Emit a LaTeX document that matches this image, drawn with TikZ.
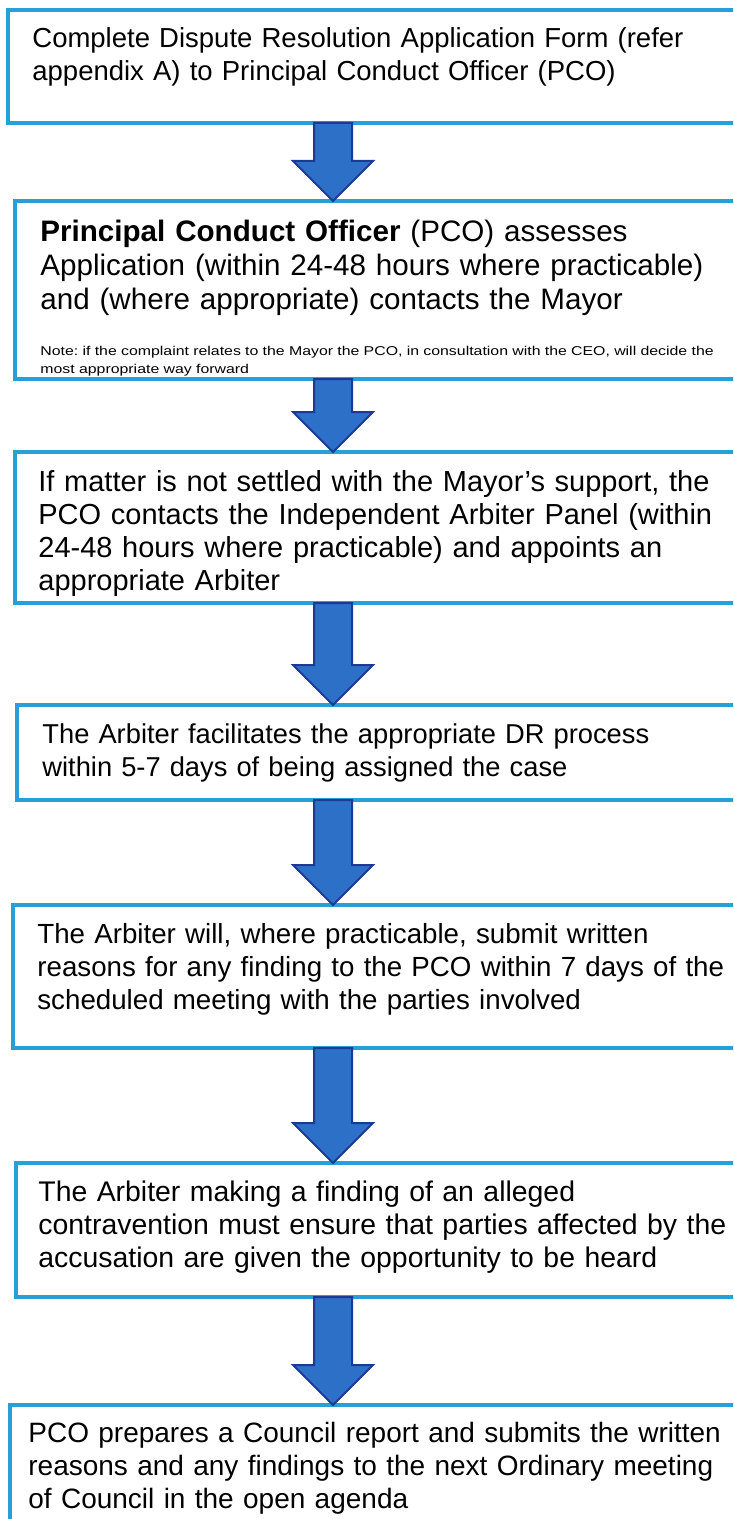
\documentclass[tikz,border=0pt]{standalone}
\usepackage{fontspec}
\setmainfont{Liberation Sans}
\newfontfamily\notefont[FakeStretch=1.24]{Liberation Sans}
\frenchspacing
\usetikzlibrary{calc}
\definecolor{frameblue}{RGB}{38,160,214}
\definecolor{arrowblue}{RGB}{44,112,200}
\definecolor{arrownavy}{RGB}{28,58,148}
\tikzset{
  stage/.style ={draw=frameblue, line width=2.3pt, fill=white, inner sep=0pt, outer sep=0pt,
                 anchor=north west, minimum width=390pt},
  txt/.style   ={anchor=base west, inner sep=0pt, align=left, text width=380pt,
                 font=\fontsize{#1}{16.5}\selectfont},
  txt/.default=13.75,
  note/.style  ={anchor=base west, inner sep=0pt, align=left, text width=380pt,
                 font=\notefont\fontsize{6.4}{8.75}\selectfont},
  flow/.style  ={draw=arrownavy, fill=arrowblue, line width=1pt, line join=miter},
}
\begin{document}
\begin{tikzpicture}[x=0.5pt,y=0.5pt]
\useasboundingbox (0,0) rectangle (733,-1519);
\clip (0,0) rectangle (733,-1519);
% process boxes
\node[stage,minimum height=56.5pt] (b1) at (8,-10) {};
\node[stage,minimum height=89pt]   (b2) at (15,-201) {};
\node[stage,minimum height=75.5pt] (b3) at (15,-452) {};
\node[stage,minimum height=47.5pt] (b4) at (17,-705) {};
\node[stage,minimum height=71.5pt] (b5) at (13,-905) {};
\node[stage,minimum height=67pt]   (b6) at (16,-1163) {};
\node[stage,minimum height=80pt]   (b7) at (10,-1405) {};
% texts
\node[txt=13.75] (t1) at ($(b1.north west)+(24,-38)$) {Complete Dispute Resolution Application Form (refer\\ appendix A) to Principal Conduct Officer (PCO)};
\node[txt=14.8,font=\fontsize{14.8}{17}\selectfont] (t2) at ($(b2.north west)+(25,-41)$) {\textbf{Principal Conduct Officer} (PCO) assesses\\ Application (within 24-48 hours where practicable)\\ and (where appropriate) contacts the Mayor};
\node[note] (n2) at ($(b2.north west)+(25,-155)$) {Note: if the complaint relates to the Mayor the PCO, in consultation with the CEO, will decide the\\ most appropriate way forward};
\node[txt=14.5] (t3) at ($(b3.north west)+(23,-39)$) {If matter is not settled with the Mayor’s support, the\\ PCO contacts the Independent Arbiter Panel (within\\ 24-48 hours where practicable) and appoints an\\ appropriate Arbiter};
\node[txt=13.65] (t4) at ($(b4.north west)+(25,-38)$) {The Arbiter facilitates the appropriate DR process\\ within 5-7 days of being assigned the case};
\node[txt=13.85] (t5) at ($(b5.north west)+(24,-38)$) {The Arbiter will, where practicable, submit written\\ reasons for any finding to the PCO within 7 days of the\\ scheduled meeting with the parties involved};
\node[txt=14.2] (t6) at ($(b6.north west)+(22,-38)$) {The Arbiter making a finding of an alleged\\ contravention must ensure that parties affected by the\\ accusation are given the opportunity to be heard};
\node[txt=14.0] (t7) at ($(b7.north west)+(18,-37)$) {PCO prepares a Council report and submits the written\\ reasons and any findings to the next Ordinary meeting\\ of Council in the open agenda};
% block arrows
\coordinate (ax) at (333,0);
\foreach \a/\b in {b1/b2,b2/b3,b3/b4,b4/b5,b5/b6,b6/b7}
  \draw[flow] ($(ax |- \a.south)+(-19,0)$) -- ($(ax |- \b.north)+(-19,40)$) -- ++(-21,0)
    -- (ax |- \b.north) -- ($(ax |- \b.north)+(40,40)$) -- ++(-21,0)
    -- ($(ax |- \a.south)+(19,0)$) -- cycle;
\end{tikzpicture}
\end{document}
